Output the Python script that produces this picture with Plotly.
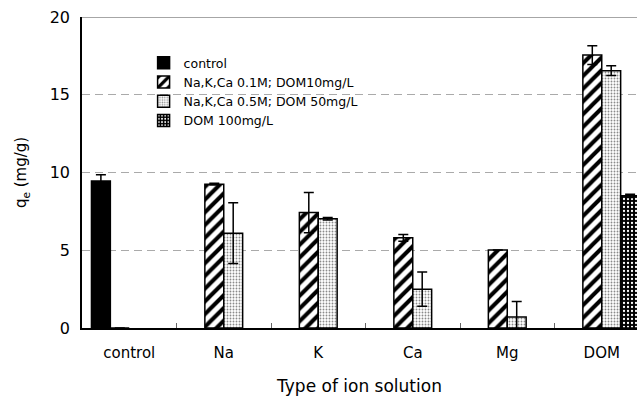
import plotly.graph_objects as go

# Adsorption capacity q_e (mg/g) by ion solution type
categories = ["control", "Na", "K", "Ca", "Mg", "DOM"]

series_names = [
    "control",
    "Na,K,Ca 0.1M; DOM10mg/L",
    "Na,K,Ca 0.5M; DOM 50mg/L",
    "DOM 100mg/L",
]

control_vals = [9.45, None, None, None, None, None]
control_err = [0.4, 0, 0, 0, 0, 0]

low_vals = [0, 9.25, 7.42, 5.8, 5.02, 17.55]
low_err = [0, 0.06, 1.3, 0.22, 0, 0.6]

mid_vals = [None, 6.1, 7.03, 2.5, 0.7, 16.55]
mid_err = [0, 1.95, 0.08, 1.1, 1.0, 0.32]

high_vals = [None, None, None, None, None, 8.5]
high_err = [0, 0, 0, 0, 0, 0.1]

y_ticks = [0, 5, 10, 15, 20]

FONT = "DejaVu Sans"

fig = go.Figure()

err_style = dict(type="data", visible=True, color="black", thickness=1.5, width=5)
outline = dict(color="black", width=1.5)

fig.add_trace(go.Bar(
    name=series_names[0], x=categories, y=control_vals,
    error_y=dict(array=control_err, **err_style),
    marker=dict(color="black", line=outline),
))
fig.add_trace(go.Bar(
    name=series_names[1], x=categories, y=low_vals,
    error_y=dict(array=low_err, **err_style),
    marker=dict(color="white", line=outline,
                pattern=dict(shape="/", fgcolor="black", bgcolor="white",
                             fgopacity=1, fillmode="replace",
                             size=9, solidity=0.45)),
))
fig.add_trace(go.Bar(
    name=series_names[2], x=categories, y=mid_vals,
    error_y=dict(array=mid_err, **err_style),
    marker=dict(color="white", line=outline,
                pattern=dict(shape=".", fgcolor="#8a8a8a", bgcolor="white",
                             fgopacity=1, fillmode="replace",
                             size=3, solidity=0.3)),
))
fig.add_trace(go.Bar(
    name=series_names[3], x=categories, y=high_vals,
    error_y=dict(array=high_err, **err_style),
    marker=dict(color="black", line=outline,
                pattern=dict(shape=".", fgcolor="white", bgcolor="black",
                             fgopacity=1, fillmode="replace",
                             size=4, solidity=0.25)),
))

# solid line closing the top of the plot area
fig.add_shape(type="line", xref="paper", yref="y", x0=0, x1=1, y0=20, y1=20,
              line=dict(color="#888888", width=1.5))

fig.update_layout(
    width=637, height=398,
    margin=dict(l=82, r=0, t=17, b=70),
    paper_bgcolor="white", plot_bgcolor="white",
    barmode="group", bargap=0.2, bargroupgap=0,
    font=dict(family=FONT, color="black"),
    legend=dict(
        x=0.111, y=0.9, xanchor="left", yanchor="top",
        font=dict(family=FONT, size=12.5, color="black"),
        bgcolor="rgba(0,0,0,0)", tracegroupgap=0, itemwidth=30,
    ),
    xaxis=dict(
        range=[-0.5, 5.373],
        showline=True, linecolor="black", linewidth=1.5,
        ticks="inside", tickson="boundaries", ticklen=5, tickcolor="#666666",
        tickfont=dict(family=FONT, size=15),
        ticklabelstandoff=10,
        title=dict(text="Type of ion solution", font=dict(family=FONT, size=17),
                   standoff=19),
        showgrid=False,
    ),
    yaxis=dict(
        range=[0, 20], tickvals=y_ticks,
        showline=True, linecolor="black", linewidth=1.5,
        ticks="", tickfont=dict(family=FONT, size=16),
        ticklabelstandoff=7,
        showgrid=True, gridcolor="#aaaaaa", gridwidth=1.2, griddash="8px,5px",
        zeroline=False,
        title=dict(text="q<sub>e</sub> (mg/g)", font=dict(family=FONT, size=15),
                   standoff=19),
    ),
)

fig.write_html("out.html")
